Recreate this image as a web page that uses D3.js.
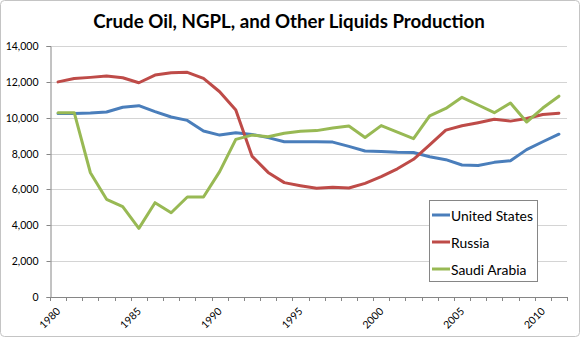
<!DOCTYPE html>
<html><head><meta charset="utf-8">
<script src="https://cdn.jsdelivr.net/npm/d3@7"></script>
<style>
html,body{margin:0;padding:0;background:#fff;}
svg{display:block;font-family:Lato,"Open Sans",sans-serif;}
</style></head>
<body>
<svg id="chart" width="580" height="337"></svg>
<script>
const titleText = "Crude Oil, NGPL, and Other Liquids Production";
const years = [1980,1981,1982,1983,1984,1985,1986,1987,1988,1989,1990,1991,1992,1993,1994,1995,1996,1997,1998,1999,2000,2001,2002,2003,2004,2005,2006,2007,2008,2009,2010,2011];
const xTickLabels = [1980,1985,1990,1995,2000,2005,2010];
const yTicks = [0,2000,4000,6000,8000,10000,12000,14000];
const seriesNames = ["United States","Russia","Saudi Arabia"];
const unitedStates = [10240,10240,10260,10320,10580,10670,10340,10040,9850,9260,9030,9160,9070,8890,8660,8660,8660,8640,8400,8140,8120,8080,8060,7820,7660,7360,7340,7510,7600,8220,8660,9080];
const russia = [12000,12190,12250,12330,12230,11950,12380,12510,12530,12190,11450,10430,7860,6950,6380,6210,6060,6120,6080,6340,6710,7150,7680,8480,9310,9550,9720,9910,9810,9960,10180,10250];
const saudiArabia = [10280,10280,6930,5450,5040,3830,5260,4700,5580,5580,6990,8790,9030,8940,9130,9240,9280,9430,9540,8900,9560,9200,8830,10100,10520,11140,10710,10280,10820,9760,10540,11200];
const seriesValues = [unitedStates, russia, saudiArabia];
const colors = ["#4A7EBB","#BE4B48","#98B954"];

const svg = d3.select("#chart");
const W = 580, H = 337;
const plot = {left:50, right:567, top:46, bottom:297};

// chart border
svg.append("rect").attr("x",0.5).attr("y",0.5).attr("width",W-1).attr("height",H-1)
  .attr("rx",4).attr("fill","#fff").attr("stroke","#c4c4c4").attr("stroke-width",1);

const x = d3.scaleBand().domain(years).range([plot.left, plot.right]).paddingInner(0).paddingOuter(0);
const y = d3.scaleLinear().domain([0,14000]).range([plot.bottom, plot.top]);
const cx = d => x(d) + x.bandwidth()/2;

// gridlines
svg.append("g").selectAll("line").data(yTicks.filter(t=>t>0)).join("line")
  .attr("x1",plot.left).attr("x2",plot.right)
  .attr("y1",d=>Math.round(y(d))+0.5).attr("y2",d=>Math.round(y(d))+0.5)
  .attr("stroke","#d4d4d4").attr("stroke-width",1);

// y axis
const yAxis = d3.axisLeft(y).tickValues(yTicks).tickSize(4).tickPadding(8)
  .tickFormat(d3.format(","));
const gy = svg.append("g").attr("transform",`translate(${plot.left+0.5},0)`).call(yAxis);
gy.select(".domain").attr("stroke","#868686");
gy.selectAll(".tick line").attr("stroke","#868686");
gy.selectAll(".tick text").attr("font-family","Lato").attr("font-size","10.5px").attr("fill","#000");
gy.selectAll(".tick").attr("transform",d=>`translate(0,${Math.round(y(d))+0.5})`);

// x axis with ticks at category boundaries
const gx = svg.append("g");
gx.append("line").attr("x1",plot.left).attr("x2",plot.right)
  .attr("y1",plot.bottom+0.5).attr("y2",plot.bottom+0.5).attr("stroke","#868686");
const boundaries = years.map(yr=>x(yr)).concat([plot.right]);
gx.selectAll("line.tk").data(boundaries).join("line").attr("class","tk")
  .attr("x1",d=>Math.round(d)+0.5).attr("x2",d=>Math.round(d)+0.5)
  .attr("y1",plot.bottom).attr("y2",plot.bottom+4).attr("stroke","#868686");
gx.selectAll("text").data(xTickLabels).join("text")
  .attr("transform",d=>`translate(${cx(d)+3},${plot.bottom+15}) rotate(-45)`)
  .attr("text-anchor","end").attr("font-family","Lato").attr("font-size","10.5px").attr("fill","#000")
  .text(d=>d);

// lines
const line = d3.line().x((d,i)=>cx(years[i])).y(d=>y(d));
svg.append("g").selectAll("path").data(seriesValues).join("path")
  .attr("d",d=>line(d)).attr("fill","none")
  .attr("stroke",(d,i)=>colors[i]).attr("stroke-width",3)
  .attr("stroke-linejoin","round").attr("stroke-linecap","round");

// title
const title = svg.append("text").attr("x",289).attr("y",28).attr("text-anchor","middle")
  .attr("font-family","Lato").attr("font-weight","bold").attr("font-size","18px").attr("fill","#000")
  .text(titleText);
const tw = title.node().getComputedTextLength();
title.attr("font-size",(18*392/tw).toFixed(2)+"px");

// legend
const lg = svg.append("g");
lg.append("rect").attr("x",429.5).attr("y",200.5).attr("width",108).attr("height",81)
  .attr("fill","#fff").attr("stroke","#868686");
const rowsY = [215,242,269];
const items = lg.selectAll("g.it").data(seriesNames).join("g").attr("class","it");
items.append("line").attr("x1",432).attr("x2",450)
  .attr("y1",(d,i)=>rowsY[i]).attr("y2",(d,i)=>rowsY[i])
  .attr("stroke",(d,i)=>colors[i]).attr("stroke-width",3);
const lt = items.append("text").attr("x",451).attr("y",(d,i)=>rowsY[i]+5.5)
  .attr("font-family","Lato").attr("font-size","14px").attr("fill","#000").text(d=>d);
const lw = lt.nodes()[0].getComputedTextLength();
lt.attr("font-size",(14*82/lw).toFixed(2)+"px");
</script>
</body></html>
